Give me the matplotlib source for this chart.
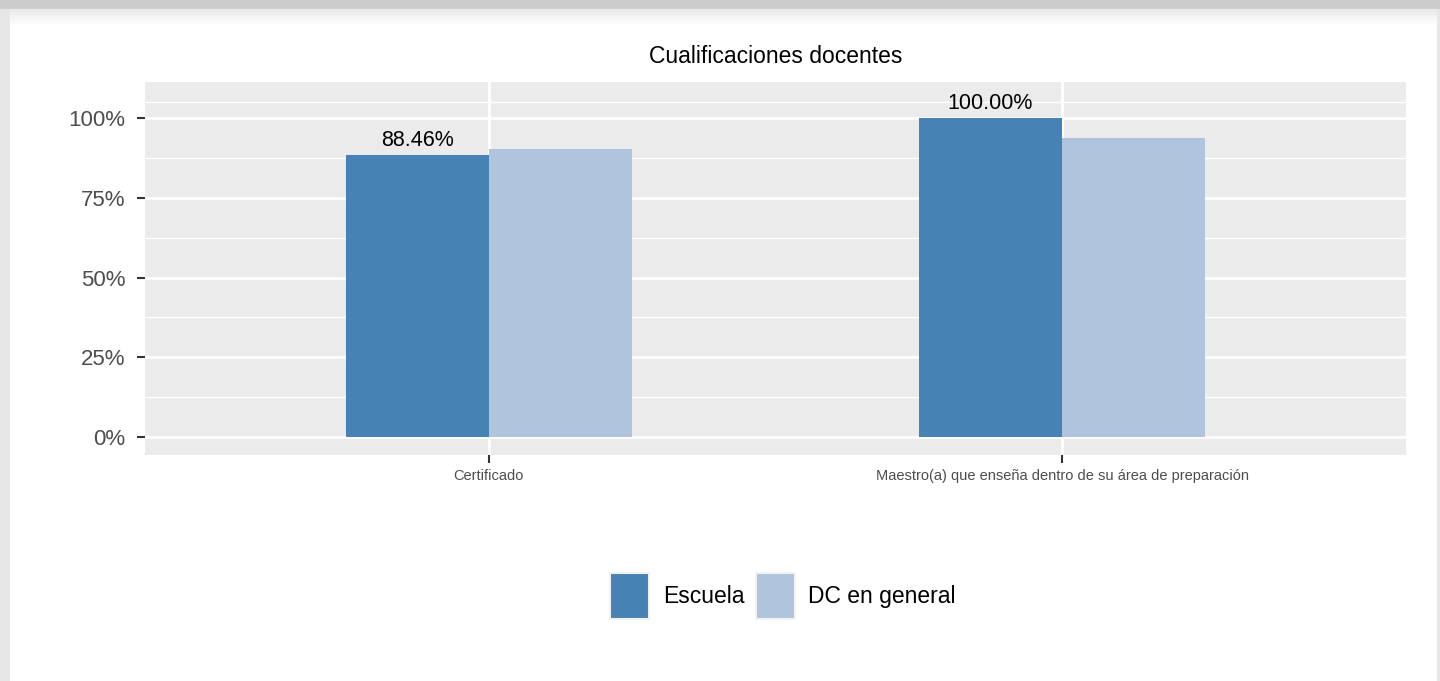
import matplotlib
matplotlib.use("Agg")
import matplotlib.pyplot as plt
from matplotlib.patches import Rectangle
import numpy as np

categorias = ["Certificado", "Maestro(a) que enseña dentro de su área de preparación"]
escuela = [88.46, 100.00]
dc_general = [90.4, 93.6]
series = ["Escuela", "DC en general"]
colores = ["#4682b4", "#b0c4de"]
yticks = [0, 25, 50, 75, 100]

plt.rcParams['font.family'] = ['Liberation Sans Narrow', 'Liberation Sans', 'DejaVu Sans']

W, H = 1440, 681
fig = plt.figure(figsize=(W / 100, H / 100), dpi=100)
fig.patch.set_facecolor("#e6e6e6")

# page frame: grey bar on top, white card below
fig.add_artist(Rectangle((0, 1 - 9 / H), 1, 9 / H, transform=fig.transFigure,
                         facecolor="#cccccc", edgecolor="none", zorder=0))
fig.add_artist(Rectangle((10 / W, 0), (1437 - 10) / W, (H - 9) / H, transform=fig.transFigure,
                         facecolor="white", edgecolor="none", zorder=0))
for k in range(12):
    fig.add_artist(Rectangle((10 / W, 1 - (9 + k * 1.4) / H), (1437 - 10) / W, 1.4 / H,
                             transform=fig.transFigure, facecolor="#d0d0d0",
                             alpha=0.5 * (1 - k / 12), edgecolor="none", zorder=0))

ax = fig.add_axes([145 / W, (H - 455) / H, (1406 - 145) / W, (455 - 82) / H])
ax.set_facecolor("#ebebeb")
for s in ax.spines.values():
    s.set_visible(False)

x = np.arange(len(categorias))
w = 0.25
ax.bar(x - w / 2, escuela, w, color=colores[0], label=series[0], zorder=3)
ax.bar(x + w / 2, dc_general, w, color=colores[1], label=series[1], zorder=3)

for xi, v in zip(x, escuela):
    ax.text(xi - w / 2, v + 1.3, f"{v:.2f}%", ha="center", va="bottom",
            fontsize=15.5, color="black", zorder=4)

ax.set_xlim(-0.6, 1.6)
ax.set_ylim(-5.6, 111.3)
ax.set_yticks(yticks)
ax.set_yticklabels([f"{t}%" for t in yticks])
ax.set_yticks([12.5, 37.5, 62.5, 87.5, 105], minor=True)
ax.set_xticks(x)
ax.set_xticklabels(categorias)
ax.grid(True, which="major", color="white", linewidth=2.0, zorder=1)
ax.grid(True, which="minor", axis="y", color="white", linewidth=1.0, zorder=1)
ax.tick_params(axis="y", which="major", labelsize=16, labelcolor="#4d4d4d",
               color="#333333", length=6, width=1.5, pad=8)
ax.tick_params(axis="y", which="minor", length=0)
ax.tick_params(axis="x", labelsize=10.5, labelcolor="#4d4d4d",
               color="#333333", length=6, width=1.5, pad=4)

ax.set_title("Cualificaciones docentes", fontsize=16.5, color="black", pad=14)

leg = fig.legend(loc="center", bbox_to_anchor=(783 / W, 1 - 596 / H), ncol=2,
                 frameon=False, fontsize=16.5, handlelength=1.7, handleheight=2.7,
                 handletextpad=0.6, columnspacing=0.5)
for p in leg.get_patches():
    p.set_edgecolor("#f2f2f2")
    p.set_linewidth(1.5)

fig.savefig("out.png", dpi=100, facecolor=fig.get_facecolor())
